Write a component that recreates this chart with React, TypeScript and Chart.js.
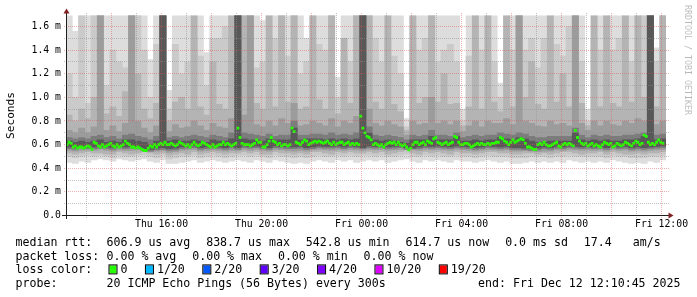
import React, { useEffect, useRef } from "react";
import { Chart, registerables } from "chart.js";

Chart.register(...registerables);

const FONT = '"DejaVu Sans Mono", monospace';

// time axis in minutes since Thu 00:00
const START_MIN = 730.75; // Thu 12:10:45
const END_MIN = START_MIN + 1440; // Fri 12:10:45
const MEDIAN_STEP_MIN = 5;
const SMOKE_STEP_MIN = 15;
const Y_MAX = 1.693;

const X_TICK_VALUES = [960, 1200, 1440, 1680, 1920, 2160];
const X_TICK_LABELS = ["Thu 16:00", "Thu 20:00", "Fri 00:00", "Fri 04:00", "Fri 08:00", "Fri 12:00"];
const Y_TICK_VALUES = [0, 0.2, 0.4, 0.6, 0.8, 1.0, 1.2, 1.4, 1.6];
const Y_TICK_LABELS = ["0.0", "0.2 m", "0.4 m", "0.6 m", "0.8 m", "1.0 m", "1.2 m", "1.4 m", "1.6 m"];
const Y_MINOR_VALUES = [0.1, 0.3, 0.5, 0.7, 0.9, 1.1, 1.3, 1.5];

// median rtt (ms), one per 5 minutes
const MEDIAN = [
  0.6, 0.62, 0.61, 0.58, 0.59, 0.57, 0.58, 0.58, 0.57, 0.58, 0.59, 0.58,
  0.56, 0.62, 0.61, 0.59, 0.58, 0.6, 0.58, 0.59, 0.6, 0.61, 0.59, 0.58,
  0.6, 0.58, 0.59, 0.6, 0.63, 0.61, 0.6, 0.58, 0.58, 0.57, 0.58, 0.57,
  0.56, 0.55, 0.55, 0.57, 0.59, 0.58, 0.6, 0.58, 0.6, 0.61, 0.6, 0.62,
  0.6, 0.6, 0.61, 0.6, 0.59, 0.6, 0.62, 0.61, 0.6, 0.59, 0.6, 0.58,
  0.6, 0.62, 0.6, 0.59, 0.6, 0.62, 0.61, 0.6, 0.59, 0.58, 0.6, 0.58,
  0.59, 0.6, 0.6, 0.62, 0.6, 0.61, 0.6, 0.59, 0.6, 0.61, 0.74, 0.66,
  0.61, 0.6, 0.6, 0.6, 0.59, 0.6, 0.61, 0.64, 0.62, 0.62, 0.58, 0.58,
  0.6, 0.63, 0.66, 0.63, 0.62, 0.6, 0.61, 0.59, 0.6, 0.6, 0.59, 0.6,
  0.74, 0.71, 0.62, 0.61, 0.6, 0.62, 0.64, 0.63, 0.6, 0.61, 0.62, 0.63,
  0.62, 0.63, 0.62, 0.61, 0.62, 0.63, 0.61, 0.6, 0.62, 0.6, 0.61, 0.62,
  0.62, 0.6, 0.61, 0.62, 0.6, 0.61, 0.6, 0.61, 0.6, 0.84, 0.74, 0.7,
  0.67, 0.66, 0.64, 0.6, 0.61, 0.6, 0.59, 0.6, 0.58, 0.6, 0.61, 0.62,
  0.61, 0.62, 0.6, 0.62, 0.6, 0.59, 0.6, 0.58, 0.555, 0.57, 0.6, 0.62,
  0.62, 0.6, 0.61, 0.62, 0.6, 0.63, 0.62, 0.61, 0.65, 0.66, 0.62, 0.61,
  0.6, 0.61, 0.62, 0.6, 0.61, 0.62, 0.67, 0.66, 0.62, 0.6, 0.6, 0.61,
  0.61, 0.6, 0.58, 0.59, 0.6, 0.61, 0.6, 0.61, 0.6, 0.6, 0.61, 0.6,
  0.61, 0.61, 0.62, 0.62, 0.66, 0.65, 0.63, 0.62, 0.6, 0.62, 0.64, 0.62,
  0.63, 0.64, 0.65, 0.64, 0.61, 0.58, 0.58, 0.57, 0.56, 0.56, 0.6, 0.61,
  0.6, 0.62, 0.6, 0.59, 0.59, 0.6, 0.61, 0.62, 0.59, 0.58, 0.6, 0.61,
  0.6, 0.61, 0.6, 0.59, 0.72, 0.66, 0.63, 0.61, 0.6, 0.61, 0.59, 0.6,
  0.61, 0.59, 0.6, 0.59, 0.58, 0.6, 0.62, 0.61, 0.6, 0.61, 0.58, 0.59,
  0.61, 0.6, 0.59, 0.6, 0.62, 0.61, 0.6, 0.59, 0.61, 0.63, 0.62, 0.6,
  0.61, 0.68, 0.67, 0.62, 0.6, 0.61, 0.6, 0.62, 0.64, 0.62, 0.61, null,
];

// smoke bands, one column per 15 minutes, outermost (lightest) to innermost (darkest)
const B1_HI = [
  1.7, 1.56, 1.7, 1.7, 1.7, 1.7, 1.7, 1.7, 1.7, 1.7, 1.7, 1.7,
  1.7, 1.32, 1.7, 1.7, 1.06, 1.7, 1.7, 1.7, 1.7, 1.7, 1.38, 1.7,
  1.7, 1.7, 1.7, 1.7, 1.7, 1.7, 1.7, 1.65, 1.7, 1.7, 1.7, 1.7,
  1.7, 1.7, 1.5, 1.7, 1.7, 1.7, 1.7, 1.17, 1.7, 1.7, 1.7, 1.7,
  1.7, 1.7, 1.7, 1.7, 1.7, 1.7, 0.82, 1.7, 1.7, 1.7, 1.7, 1.7,
  1.7, 1.7, 1.7, 0.9, 1.7, 1.7, 1.7, 1.7, 1.7, 1.12, 1.7, 1.7,
  1.7, 1.7, 1.7, 1.7, 1.7, 1.7, 1.7, 1.7, 1.7, 1.7, 1.7, 0.9,
  1.7, 1.7, 1.7, 1.7, 1.7, 1.7, 1.7, 1.7, 1.7, 1.7, 1.42, 1.7,
];
const B1_LO = [
  0.45, 0.44, 0.46, 0.45, 0.47, 0.48, 0.47, 0.46, 0.48, 0.47, 0.46, 0.47,
  0.48, 0.46, 0.45, 0.47, 0.44, 0.44, 0.45, 0.46, 0.47, 0.45, 0.46, 0.47,
  0.46, 0.45, 0.46, 0.47, 0.46, 0.45, 0.47, 0.46, 0.45, 0.47, 0.46, 0.45,
  0.44, 0.45, 0.44, 0.46, 0.47, 0.46, 0.45, 0.47, 0.46, 0.47, 0.45, 0.46,
  0.47, 0.46, 0.47, 0.45, 0.46, 0.47, 0.48, 0.46, 0.45, 0.47, 0.46, 0.47,
  0.46, 0.45, 0.47, 0.46, 0.46, 0.45, 0.46, 0.47, 0.46, 0.45, 0.46, 0.44,
  0.44, 0.45, 0.46, 0.45, 0.46, 0.45, 0.46, 0.45, 0.47, 0.46, 0.45, 0.46,
  0.45, 0.46, 0.45, 0.47, 0.46, 0.45, 0.44, 0.45, 0.44, 0.46, 0.45, 0.47,
];
const B2_HI = [
  1.2, 1.0, 1.7, 0.95, 1.7, 1.7, 1.1, 1.4, 1.3, 1.25, 1.7, 1.7,
  1.4, 1.0, 1.45, 1.7, 0.9, 1.45, 1.2, 1.3, 1.5, 1.35, 1.1, 1.5,
  1.5, 1.6, 1.45, 1.7, 1.7, 1.7, 1.25, 1.3, 1.4, 1.5, 1.7, 1.35,
  1.7, 1.2, 1.3, 1.45, 1.45, 1.4, 1.7, 1.0, 1.35, 1.3, 1.7, 1.7,
  1.7, 1.5, 1.3, 1.5, 1.35, 1.2, 0.75, 1.45, 1.4, 1.5, 1.7, 1.3,
  1.4, 1.45, 1.3, 0.8, 1.35, 1.5, 1.4, 1.35, 1.3, 1.0, 1.45, 1.4,
  1.7, 1.4, 1.5, 1.25, 1.5, 1.4, 1.45, 1.35, 1.6, 1.7, 1.3, 0.8,
  1.5, 1.4, 1.35, 1.4, 1.5, 1.45, 1.3, 1.4, 1.7, 1.7, 1.3, 1.7,
];
const B2_LO = [
  0.5, 0.49, 0.5, 0.51, 0.5, 0.51, 0.5, 0.49, 0.51, 0.5, 0.5, 0.51,
  0.51, 0.5, 0.49, 0.51, 0.48, 0.49, 0.5, 0.5, 0.51, 0.49, 0.5, 0.51,
  0.5, 0.49, 0.5, 0.51, 0.51, 0.5, 0.51, 0.5, 0.49, 0.51, 0.5, 0.5,
  0.49, 0.5, 0.49, 0.5, 0.51, 0.5, 0.5, 0.51, 0.5, 0.51, 0.5, 0.51,
  0.51, 0.5, 0.51, 0.5, 0.5, 0.51, 0.52, 0.5, 0.5, 0.51, 0.5, 0.51,
  0.5, 0.5, 0.51, 0.5, 0.5, 0.49, 0.5, 0.51, 0.5, 0.5, 0.5, 0.49,
  0.49, 0.49, 0.5, 0.5, 0.5, 0.49, 0.5, 0.5, 0.51, 0.5, 0.5, 0.5,
  0.5, 0.5, 0.49, 0.51, 0.5, 0.5, 0.49, 0.49, 0.49, 0.5, 0.5, 0.51,
];
const B3_HI = [
  0.85, 0.8, 0.9, 0.82, 1.0, 1.7, 0.86, 0.92, 0.84, 1.05, 1.7, 1.2,
  0.9, 0.82, 0.95, 1.7, 0.8, 0.96, 1.0, 0.9, 1.7, 0.92, 0.85, 1.3,
  0.94, 0.9, 1.7, 1.7, 1.7, 1.7, 0.95, 0.9, 1.7, 0.92, 1.7, 0.96,
  1.7, 0.9, 0.92, 1.7, 0.98, 0.9, 1.7, 0.86, 1.5, 0.95, 1.7, 1.7,
  1.7, 0.96, 0.9, 1.7, 0.94, 0.88, 0.72, 1.7, 0.95, 1.0, 1.7, 0.96,
  1.2, 0.94, 0.95, 0.76, 0.92, 1.7, 0.9, 1.7, 0.96, 0.88, 1.7, 0.92,
  1.7, 1.0, 1.3, 0.94, 0.9, 1.7, 0.96, 1.2, 0.92, 1.7, 0.95, 0.76,
  1.7, 0.92, 1.7, 0.95, 0.92, 1.7, 0.96, 1.7, 1.0, 1.7, 0.92, 1.7,
];
const B3_LO = [
  0.53, 0.52, 0.53, 0.54, 0.53, 0.53, 0.52, 0.52, 0.54, 0.53, 0.52, 0.53,
  0.54, 0.53, 0.52, 0.53, 0.51, 0.52, 0.53, 0.52, 0.54, 0.52, 0.53, 0.54,
  0.53, 0.52, 0.53, 0.53, 0.54, 0.53, 0.54, 0.52, 0.52, 0.54, 0.53, 0.53,
  0.52, 0.53, 0.52, 0.54, 0.54, 0.53, 0.52, 0.54, 0.53, 0.54, 0.53, 0.53,
  0.54, 0.53, 0.54, 0.52, 0.53, 0.54, 0.55, 0.53, 0.52, 0.54, 0.53, 0.54,
  0.53, 0.52, 0.54, 0.53, 0.53, 0.52, 0.53, 0.54, 0.54, 0.53, 0.53, 0.52,
  0.52, 0.53, 0.53, 0.52, 0.53, 0.52, 0.53, 0.54, 0.54, 0.53, 0.52, 0.53,
  0.53, 0.54, 0.52, 0.54, 0.53, 0.52, 0.52, 0.53, 0.52, 0.53, 0.53, 0.54,
];
const B4_HI = [
  0.72, 0.7, 0.74, 0.7, 0.75, 1.7, 0.72, 0.76, 0.71, 0.78, 1.7, 0.8,
  0.74, 0.7, 0.76, 1.7, 0.71, 0.77, 0.74, 0.75, 0.8, 0.76, 0.72, 0.78,
  0.75, 0.74, 0.82, 1.7, 0.85, 1.7, 0.77, 0.75, 0.8, 0.76, 0.82, 0.78,
  0.95, 0.76, 0.77, 0.8, 0.78, 0.76, 0.82, 0.75, 0.8, 0.78, 0.84, 1.7,
  0.9, 0.78, 0.76, 0.8, 0.77, 0.75, 0.68, 0.8, 0.77, 0.78, 1.0, 0.78,
  0.8, 0.77, 0.8, 0.71, 0.76, 0.8, 0.75, 0.8, 0.78, 0.78, 0.82, 0.77,
  1.7, 0.8, 0.78, 0.76, 0.75, 0.8, 0.77, 0.78, 0.76, 1.7, 0.78, 0.72,
  0.8, 0.76, 0.8, 0.77, 0.76, 0.8, 0.78, 0.82, 0.8, 1.7, 0.77, 0.8,
];
const B4_LO = [
  0.55, 0.545, 0.55, 0.555, 0.55, 0.56, 0.55, 0.545, 0.555, 0.55, 0.55, 0.555,
  0.545, 0.54, 0.545, 0.55, 0.535, 0.54, 0.55, 0.555, 0.56, 0.545, 0.55, 0.555,
  0.55, 0.545, 0.55, 0.55, 0.56, 0.55, 0.56, 0.55, 0.545, 0.56, 0.555, 0.55,
  0.545, 0.55, 0.545, 0.555, 0.56, 0.555, 0.55, 0.56, 0.55, 0.56, 0.555, 0.55,
  0.56, 0.555, 0.56, 0.55, 0.555, 0.56, 0.565, 0.555, 0.55, 0.56, 0.555, 0.56,
  0.555, 0.55, 0.56, 0.555, 0.55, 0.545, 0.55, 0.56, 0.555, 0.55, 0.555, 0.545,
  0.545, 0.55, 0.545, 0.54, 0.545, 0.545, 0.555, 0.55, 0.56, 0.555, 0.55, 0.555,
  0.55, 0.555, 0.545, 0.56, 0.55, 0.555, 0.545, 0.55, 0.545, 0.55, 0.555, 0.56,
];
const B5_HI = [
  0.66, 0.65, 0.66, 0.65, 0.67, 0.68, 0.66, 0.67, 0.65, 0.68, 0.69, 0.67,
  0.66, 0.64, 0.67, 1.7, 0.66, 0.67, 0.66, 0.67, 0.68, 0.67, 0.66, 0.68,
  0.67, 0.66, 0.7, 1.7, 0.7, 0.69, 0.68, 0.67, 0.69, 0.67, 0.68, 0.68,
  0.8, 0.68, 0.68, 0.69, 0.69, 0.68, 0.7, 0.68, 0.69, 0.68, 0.7, 1.7,
  0.75, 0.68, 0.67, 0.68, 0.67, 0.66, 0.64, 0.68, 0.67, 0.68, 0.72, 0.68,
  0.68, 0.67, 0.7, 0.66, 0.67, 0.68, 0.67, 0.68, 0.68, 0.7, 0.69, 0.68,
  0.7, 0.69, 0.67, 0.66, 0.66, 0.67, 0.67, 0.67, 0.67, 0.74, 0.68, 0.66,
  0.68, 0.67, 0.68, 0.67, 0.67, 0.68, 0.68, 0.69, 0.7, 1.7, 0.68, 0.69,
];
const B5_LO = [
  0.565, 0.56, 0.57, 0.565, 0.565, 0.57, 0.565, 0.56, 0.575, 0.565, 0.57, 0.565,
  0.55, 0.545, 0.555, 0.56, 0.55, 0.555, 0.565, 0.57, 0.575, 0.56, 0.565, 0.57,
  0.565, 0.56, 0.57, 0.56, 0.575, 0.57, 0.575, 0.565, 0.56, 0.575, 0.57, 0.565,
  0.565, 0.57, 0.56, 0.565, 0.575, 0.57, 0.57, 0.575, 0.565, 0.575, 0.57, 0.565,
  0.575, 0.57, 0.575, 0.565, 0.57, 0.575, 0.56, 0.565, 0.565, 0.575, 0.57, 0.575,
  0.57, 0.565, 0.575, 0.57, 0.565, 0.56, 0.565, 0.575, 0.57, 0.565, 0.57, 0.56,
  0.56, 0.555, 0.55, 0.555, 0.565, 0.56, 0.57, 0.565, 0.575, 0.57, 0.565, 0.57,
  0.565, 0.57, 0.56, 0.575, 0.565, 0.57, 0.56, 0.565, 0.56, 0.565, 0.57, 0.575,
];
const B6_HI = [
  0.63, 0.62, 0.63, 0.62, 0.63, 0.64, 0.62, 0.63, 0.62, 0.64, 0.64, 0.63,
  0.62, 0.6, 0.63, 1.7, 0.63, 0.64, 0.63, 0.63, 0.64, 0.63, 0.62, 0.64,
  0.63, 0.63, 0.65, 1.7, 0.65, 0.64, 0.64, 0.63, 0.65, 0.64, 0.64, 0.64,
  0.74, 0.64, 0.65, 0.65, 0.65, 0.64, 0.65, 0.64, 0.65, 0.64, 0.65, 1.7,
  0.7, 0.64, 0.63, 0.64, 0.63, 0.62, 0.61, 0.64, 0.64, 0.64, 0.67, 0.64,
  0.64, 0.64, 0.67, 0.63, 0.63, 0.64, 0.63, 0.64, 0.64, 0.66, 0.65, 0.64,
  0.66, 0.65, 0.63, 0.62, 0.62, 0.63, 0.63, 0.63, 0.63, 0.7, 0.64, 0.63,
  0.64, 0.63, 0.64, 0.63, 0.63, 0.64, 0.64, 0.65, 0.67, 1.7, 0.64, 0.65,
];
const B6_LO = [
  0.58, 0.575, 0.585, 0.575, 0.58, 0.585, 0.58, 0.575, 0.59, 0.58, 0.585, 0.575,
  0.565, 0.56, 0.57, 0.575, 0.565, 0.57, 0.58, 0.585, 0.59, 0.575, 0.58, 0.585,
  0.58, 0.575, 0.585, 0.575, 0.59, 0.585, 0.59, 0.58, 0.575, 0.59, 0.585, 0.58,
  0.58, 0.585, 0.575, 0.58, 0.59, 0.585, 0.585, 0.59, 0.58, 0.59, 0.585, 0.575,
  0.59, 0.585, 0.59, 0.58, 0.585, 0.59, 0.575, 0.57, 0.58, 0.59, 0.585, 0.59,
  0.585, 0.58, 0.59, 0.585, 0.58, 0.575, 0.58, 0.59, 0.585, 0.58, 0.585, 0.575,
  0.575, 0.57, 0.565, 0.57, 0.58, 0.575, 0.585, 0.58, 0.59, 0.585, 0.58, 0.585,
  0.58, 0.585, 0.575, 0.59, 0.58, 0.585, 0.575, 0.58, 0.575, 0.58, 0.585, 0.59,
];

const SMOKE_BANDS = [
  { lo: B1_LO, hi: B1_HI, color: "#dddddd" },
  { lo: B2_LO, hi: B2_HI, color: "#cacaca" },
  { lo: B3_LO, hi: B3_HI, color: "#b4b4b4" },
  { lo: B4_LO, hi: B4_HI, color: "#9c9c9c" },
  { lo: B5_LO, hi: B5_HI, color: "#7c7c7c" },
  { lo: B6_LO, hi: B6_HI, color: "#585858" },
];

const LOSS_LABELS = ["0", "1/20", "2/20", "3/20", "4/20", "10/20", "19/20"];
const LOSS_COLORS = ["#26ff00", "#00b8ff", "#0059ff", "#5e00ff", "#7e00ff", "#dd00ff", "#ff0000"];

const ROW_LABELS = ["median rtt:", "packet loss:", "loss color:", "probe:"];
const RTT_ITEMS = ["606.9 us avg", "838.7 us max", "542.8 us min", "614.7 us now", "0.0 ms sd", "17.4   am/s"];
const LOSS_ITEMS = ["0.00 % avg", "0.00 % max", "0.00 % min", "0.00 % now"];
const PROBE_TEXT = "20 ICMP Echo Pings (56 Bytes) every 300s";
const END_TEXT = "end: Fri Dec 12 12:10:45 2025";
const WATERMARK = "RRDTOOL / TOBI OETIKER";

// rrdtool-like colours
const COL_GRID = "rgba(143,143,143,0.55)";
const COL_MGRID = "rgba(222,79,79,0.45)";
const COL_AXIS = "rgb(31,31,31)";
const COL_ARROW = "rgb(128,31,31)";

const rrdPlugin = {
  id: "rrdLook",
  beforeDraw(chart: any) {
    const { ctx, width, height } = chart;
    ctx.save();
    ctx.fillStyle = "#ffffff";
    ctx.fillRect(0, 0, width, height);
    ctx.restore();
  },
  afterDatasetsDraw(chart: any) {
    const { ctx, chartArea: a, scales } = chart;
    const xs = scales.x;
    const ys = scales.y;
    const xl = Math.floor(a.left);
    const yb = Math.floor(ys.getPixelForValue(0));
    const yt = Math.floor(a.top);
    const xr = Math.floor(a.right);
    const x0 = xl + 0.5;
    const y0 = yb + 0.5;
    ctx.save();
    ctx.lineWidth = 1;
    ctx.setLineDash([1, 1]);
    // horizontal grid (dotted, dash phase on whole pixels)
    const hLines = [
      ...Y_MINOR_VALUES.map((v) => ({ v, major: false })),
      ...Y_TICK_VALUES.filter((v) => v > 0).map((v) => ({ v, major: true })),
    ];
    for (const { v, major } of hLines) {
      const y = Math.floor(ys.getPixelForValue(v)) + 0.5;
      ctx.strokeStyle = major ? COL_MGRID : COL_GRID;
      ctx.beginPath();
      ctx.moveTo(xl - 2, y);
      ctx.lineTo(xr + 3, y);
      ctx.stroke();
    }
    // vertical grid: every hour, major every two hours
    for (let m = Math.ceil(START_MIN / 60) * 60; m <= END_MIN; m += 60) {
      const x = Math.floor(xs.getPixelForValue(m)) + 0.5;
      ctx.strokeStyle = m % 120 === 0 ? COL_MGRID : COL_GRID;
      ctx.beginPath();
      ctx.moveTo(x, yt - 2);
      ctx.lineTo(x, yb + 3);
      ctx.stroke();
    }
    ctx.setLineDash([]);
    // axes
    ctx.strokeStyle = COL_AXIS;
    ctx.beginPath();
    ctx.moveTo(xl - 4, y0);
    ctx.lineTo(xr + 4, y0);
    ctx.moveTo(x0, yb + 4);
    ctx.lineTo(x0, yt - 4);
    ctx.stroke();
    // arrows
    ctx.fillStyle = COL_ARROW;
    ctx.beginPath();
    ctx.moveTo(xr + 2.5, y0 - 3);
    ctx.lineTo(xr + 2.5, y0 + 3);
    ctx.lineTo(xr + 7.5, y0);
    ctx.closePath();
    ctx.fill();
    ctx.beginPath();
    ctx.moveTo(x0 - 3, yt - 1.5);
    ctx.lineTo(x0 + 3, yt - 1.5);
    ctx.lineTo(x0, yt - 6.5);
    ctx.closePath();
    ctx.fill();
    ctx.restore();
  },
  afterDraw(chart: any) {
    const { ctx } = chart;
    ctx.save();
    // watermark
    ctx.save();
    ctx.translate(687, 5);
    ctx.rotate(Math.PI / 2);
    ctx.font = `8.3px ${FONT}`;
    ctx.fillStyle = "rgba(0,0,0,0.28)";
    ctx.textBaseline = "middle";
    ctx.textAlign = "left";
    ctx.fillText(WATERMARK, 0, 0);
    ctx.restore();

    // legend
    ctx.font = `11.6px ${FONT}`;
    ctx.fillStyle = "#000";
    ctx.textBaseline = "alphabetic";
    ctx.textAlign = "left";
    const X1 = 15.5;
    const X2 = 106.5;
    const GAP = 15.9;
    const rows = [246, 259.7, 273.4, 287.1];
    ROW_LABELS.forEach((t, i) => ctx.fillText(t, X1, rows[i]));
    let cx = X2;
    for (const t of RTT_ITEMS) {
      ctx.fillText(t, cx, rows[0]);
      cx += ctx.measureText(t).width + GAP;
    }
    cx = X2;
    for (const t of LOSS_ITEMS) {
      ctx.fillText(t, cx, rows[1]);
      cx += ctx.measureText(t).width + GAP;
    }
    cx = X2;
    const charW = ctx.measureText("0").width;
    LOSS_LABELS.forEach((t, i) => {
      ctx.fillStyle = LOSS_COLORS[i];
      ctx.fillRect(cx + 3, rows[2] - 8, 7, 8);
      ctx.strokeStyle = "#000";
      ctx.lineWidth = 1;
      ctx.strokeRect(cx + 2.5, rows[2] - 8.5, 8, 9);
      ctx.fillStyle = "#000";
      ctx.fillText(t, cx + 2 * charW, rows[2]);
      cx += 2 * charW + ctx.measureText(t).width + GAP - 0.4;
    });
    ctx.fillText(PROBE_TEXT, X2, rows[3]);
    ctx.textAlign = "right";
    ctx.fillText(END_TEXT, 680.5, rows[3]);
    ctx.restore();
  },
};

export default function App() {
  const ref = useRef<HTMLCanvasElement | null>(null);
  useEffect(() => {
    const canvas = ref.current;
    if (!canvas) return;
    const smokeDatasets = SMOKE_BANDS.map((b, k) => ({
      type: "bar" as const,
      data: b.hi.map((h, i) => ({ x: START_MIN + SMOKE_STEP_MIN * (i + 0.5), y: [b.lo[i], h] })),
      backgroundColor: b.color,
      borderWidth: 0,
      barPercentage: 1,
      categoryPercentage: 1,
      grouped: false,
      order: 20 - k,
    }));
    const medianDataset = {
      type: "line" as const,
      data: MEDIAN.map((m, i) => ({ x: START_MIN + MEDIAN_STEP_MIN * (i + 0.5), y: m })),
      showLine: false,
      pointStyle: "rect",
      pointRadius: 2.0,
      pointBorderWidth: 0,
      pointBackgroundColor: LOSS_COLORS[0],
      borderColor: LOSS_COLORS[0],
      order: 0,
    };
    const chart = new Chart(canvas, {
      type: "bar",
      data: { datasets: [...smokeDatasets, medianDataset] as any },
      options: {
        responsive: false,
        animation: false,
        devicePixelRatio: 1,
        events: [],
        layout: { padding: { left: 0, right: 31, top: 15.5, bottom: 0 } },
        plugins: { legend: { display: false }, tooltip: { enabled: false } },
        scales: {
          x: {
            type: "linear",
            min: START_MIN,
            max: END_MIN,
            offset: false,
            grid: { display: false, drawTicks: false },
            border: { display: false },
            afterBuildTicks: (s: any) => {
              s.ticks = X_TICK_VALUES.map((v) => ({ value: v }));
            },
            afterFit: (s: any) => {
              s.height = 81.5;
            },
            ticks: {
              autoSkip: false,
              maxRotation: 0,
              minRotation: 0,
              padding: 3,
              color: "#000",
              font: { family: FONT, size: 9.8 },
              callback: (_v: any, i: number) => X_TICK_LABELS[i],
            },
          },
          y: {
            type: "linear",
            min: 0,
            max: Y_MAX,
            grid: { display: false, drawTicks: false },
            border: { display: false },
            afterBuildTicks: (s: any) => {
              s.ticks = Y_TICK_VALUES.map((v) => ({ value: v }));
            },
            afterFit: (s: any) => {
              s.width = 66;
            },
            ticks: {
              padding: 5,
              color: "#000",
              font: { family: FONT, size: 9.8 },
              callback: (_v: any, i: number) => Y_TICK_LABELS[i],
            },
            title: {
              display: true,
              text: "Seconds",
              color: "#000",
              font: { family: FONT, size: 11.1 },
              padding: { top: 4, bottom: 0 },
            },
          },
        },
      } as any,
      plugins: [rrdPlugin],
    });
    return () => chart.destroy();
  }, []);
  return (
    <div style={{ position: "absolute", left: 0, top: 0, width: 697, height: 297, background: "#fff" }}>
      <canvas ref={ref} width={697} height={297} style={{ display: "block", width: 697, height: 297 }} />
    </div>
  );
}
